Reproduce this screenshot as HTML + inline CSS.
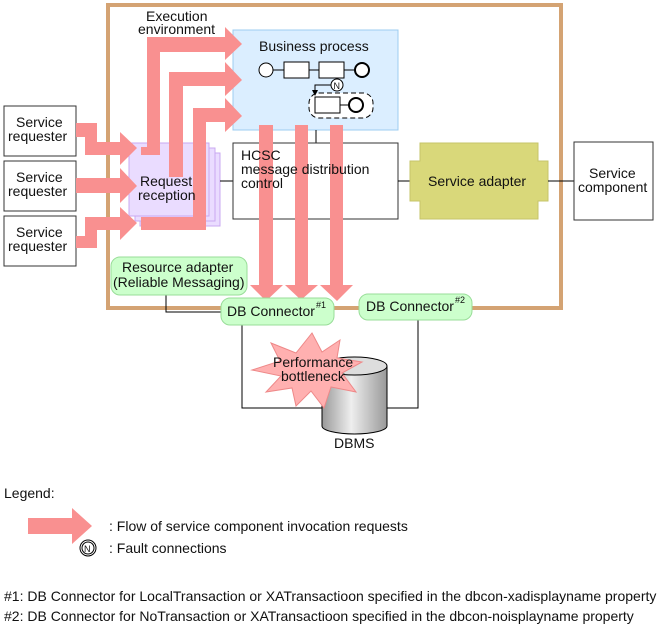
<!DOCTYPE html>
<html><head><style>body{margin:0;background:#fff}svg{display:block}text{font-family:"Liberation Sans",sans-serif;font-size:14px;fill:#111}</style></head><body>
<svg width="672" height="627" viewBox="0 0 672 627">
<!-- frame -->
<rect x="108" y="5" width="453" height="303" fill="none" stroke="#d4a373" stroke-width="4"/>
<text x="146" y="21">Execution</text><text x="138" y="34">environment</text>
<!-- business process -->
<rect x="233" y="30" width="165" height="100" fill="#dbeeff" stroke="#9cccf0"/>
<text x="259" y="51">Business process</text>
<line x1="273" y1="70" x2="356" y2="70" stroke="#000"/>
<circle cx="266" cy="70" r="7" fill="#fff" stroke="#000"/>
<rect x="284" y="62" width="25" height="16" fill="#fff" stroke="#000"/>
<rect x="319" y="62" width="25" height="16" fill="#fff" stroke="#000"/>
<circle cx="362" cy="70" r="7" fill="#fff" stroke="#000" stroke-width="2"/>
<rect x="309" y="93" width="64" height="25" rx="10" fill="#fff" stroke="#000" stroke-dasharray="5,3"/>
<rect x="315" y="97" width="25" height="16" fill="#fff" stroke="#000"/>
<line x1="340" y1="105" x2="349" y2="105" stroke="#000"/>
<circle cx="356" cy="105" r="7" fill="#fff" stroke="#000" stroke-width="2"/>
<polyline points="331,85 315,85 315,93" fill="none" stroke="#000"/>
<polygon points="312,90 318,90 315,96" fill="#000"/>
<circle cx="337" cy="85" r="6" fill="#fff" stroke="#000"/>
<text x="333.5" y="89" style="font-size:9px">N</text>
<line x1="316" y1="130" x2="316" y2="143" stroke="#000"/>
<!-- request reception -->
<rect x="140" y="153" width="80" height="73" fill="#eadcff" stroke="#c9a8f0"/>
<rect x="135" y="148" width="80" height="73" fill="#eadcff" stroke="#c9a8f0"/>
<rect x="129" y="143" width="80" height="73" fill="#eadcff" stroke="#c9a8f0"/>
<line x1="220" y1="181" x2="233" y2="181" stroke="#000"/>
<!-- HCSC -->
<rect x="233" y="143" width="165" height="76" fill="#fff" stroke="#333"/>
<line x1="398" y1="181" x2="410" y2="181" stroke="#000"/>
<!-- service adapter -->
<path d="M420,143H538V161H548V201H538V219H420V201H410V161H420Z" fill="#d9d87a" stroke="#c6c46a"/>
<text x="428" y="186">Service adapter</text>
<line x1="548" y1="181" x2="574" y2="181" stroke="#000"/>
<rect x="574" y="142" width="79" height="78" fill="#fff" stroke="#333"/>
<text x="589" y="178">Service</text><text x="578" y="192">component</text>
<!-- requesters -->
<rect x="4" y="106" width="72" height="50" fill="#fff" stroke="#333"/>
<rect x="4" y="161" width="72" height="50" fill="#fff" stroke="#333"/>
<rect x="4" y="216" width="72" height="50" fill="#fff" stroke="#333"/>
<text x="16" y="127">Service</text><text x="8" y="141">requester</text>
<text x="16" y="182">Service</text><text x="8" y="196">requester</text>
<text x="16" y="237">Service</text><text x="8" y="251">requester</text>
<!-- arrows -->
<g fill="#f99090">
<path d="M76,123H97V142H120V132L137,148L120,165V155H85V137H76Z"/>
<path d="M76,178H120V168L137,186L120,203V193H76Z"/>
<path d="M76,236H85V217H120V207L137,223L120,240V230H97V248H76Z"/>
<path d="M141,147H147V37H225V27L242,44L225,60V52H160V155H141Z"/>
<path d="M169,177V72H225V62L242,80L225,96V86H183V177Z"/>
<path d="M141,217H193V108H225V98L242,116L225,132V122H206V230H141Z"/>
<path d="M259,125H273V285H283L266,301L250,285H259Z"/>
<path d="M295,125H308V285H318L301,300L285,285H295Z"/>
<path d="M330,125H343V285H353L337,301L320,285H330Z"/>
<path d="M28,518H72V508L92,526L72,544V534H28Z"/>
</g>
<text x="241" y="160">HCSC</text><text x="241" y="174">message distribution</text><text x="241" y="188">control</text>
<text x="140" y="186">Request</text><text x="138" y="200">reception</text>
<!-- lines to DBMS -->
<polyline points="166,295 166,312 222,312" fill="none" stroke="#000"/>
<polyline points="242,325 242,408 322,408" fill="none" stroke="#000"/>
<polyline points="418,320 418,408 387,408" fill="none" stroke="#000"/>
<!-- cylinder -->
<defs><linearGradient id="g" x1="0" x2="1"><stop offset="0" stop-color="#999"/><stop offset=".45" stop-color="#eee"/><stop offset="1" stop-color="#999"/></linearGradient></defs>
<path d="M322,366V426A32.5,8 0 0 0 387,426V366Z" fill="url(#g)" stroke="#000"/>
<ellipse cx="354.5" cy="366" rx="32.5" ry="9" fill="#ddd" stroke="#000"/>
<text x="334" y="448">DBMS</text>
<!-- starburst -->
<polygon points="312,333 322,352 340,340 337,358 362,362 342,373 356,392 331,387 324,408 311,391 296,406 292,388 266,392 281,376 252,370 280,361 271,343 296,353" fill="#ffb0b0" stroke="#e88"/>
<text x="273" y="367">Performance</text><text x="281" y="381">bottleneck</text>
<!-- green boxes -->
<rect x="111" y="257" width="136" height="38" rx="9" fill="#ccffcc" stroke="#9d9"/>
<text x="122" y="272">Resource adapter</text><text x="113" y="287">(Reliable Messaging)</text>
<rect x="221" y="298" width="113" height="27" rx="9" fill="#ccffcc" stroke="#9d9"/>
<text x="227" y="316">DB Connector</text><text x="316" y="308" style="font-size:9px">#1</text>
<rect x="359" y="294" width="113" height="26" rx="9" fill="#ccffcc" stroke="#9d9"/>
<text x="366" y="311">DB Connector</text><text x="455" y="303" style="font-size:9px">#2</text>
<!-- legend -->
<text x="4" y="498">Legend:</text>
<text x="109" y="531">: Flow of service component invocation requests</text>
<circle cx="88" cy="548" r="8" fill="#fff" stroke="#000"/><circle cx="88" cy="548" r="6" fill="none" stroke="#000"/>
<text x="84" y="552" style="font-size:9px">N</text>
<text x="109" y="553">: Fault connections</text>
<text x="4" y="601">#1: DB Connector for LocalTransaction or XATransactioon specified in the dbcon-xadisplayname property</text>
<text x="4" y="621">#2: DB Connector for NoTransaction or XATransactioon specified in the dbcon-noisplayname property</text>
</svg>
</body></html>
